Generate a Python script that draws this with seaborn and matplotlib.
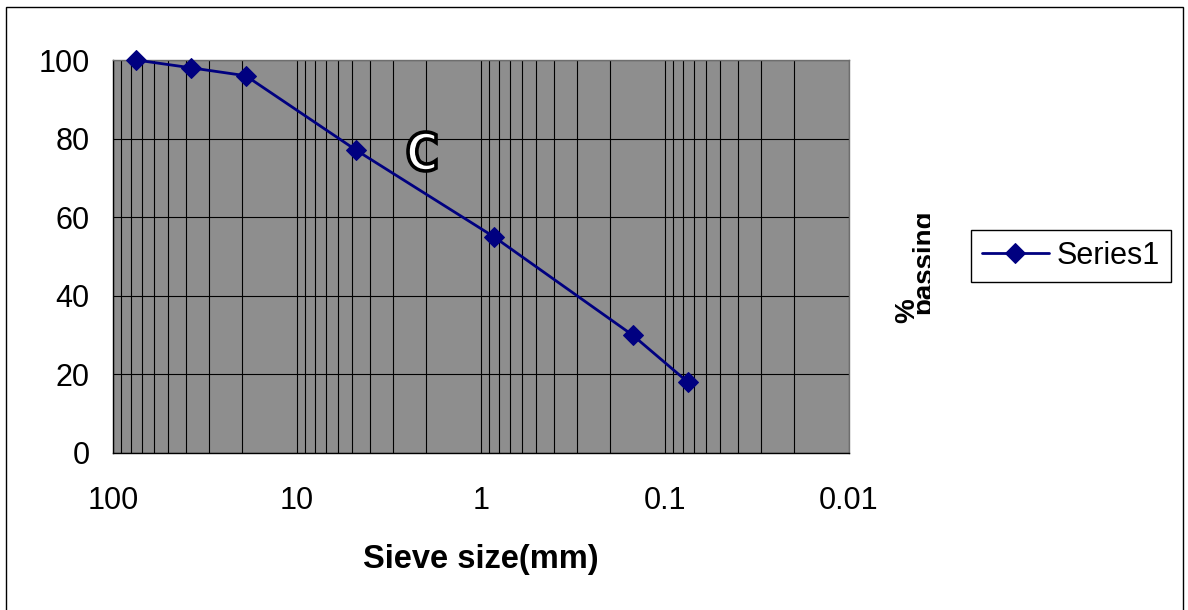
import numpy as np
import pandas as pd
import matplotlib.pyplot as plt
from matplotlib.patches import Rectangle, PathPatch
from matplotlib.textpath import TextPath
from matplotlib.font_manager import FontProperties
from matplotlib.transforms import Affine2D, Bbox, TransformedBbox
from matplotlib.ticker import FixedLocator, FixedFormatter, MultipleLocator, LogLocator, NullFormatter
import seaborn as sns

# sieve analysis, curve C
sieve_mm = [75, 37.5, 19, 4.75, 0.85, 0.15, 0.075]
passing = [100, 98, 96, 77, 55, 30, 18]
x_ticks = [100, 10, 1, 0.1, 0.01]
x_tick_labels = ['100', '10', '1', '0.1', '0.01']
y_ticks = [0, 20, 40, 60, 80, 100]

df = pd.DataFrame({'sieve': sieve_mm, 'passing': passing})

sns.set_style('white')
plt.rcParams['font.family'] = ['Liberation Sans', 'DejaVu Sans']
for k in ['text.color', 'axes.labelcolor', 'xtick.color', 'ytick.color']:
    plt.rcParams[k] = 'black'

W, H = 1188, 610
fig = plt.figure(figsize=(W / 100, H / 100), dpi=100)
ax = fig.add_axes([113 / W, 1 - 453 / H, (849 - 113) / W, (453 - 60) / H])
ax.set_facecolor('#8e8e8e')

sns.lineplot(data=df, x='sieve', y='passing', ax=ax, color='#000080',
             marker='D', markersize=10.5, markeredgecolor='#000080',
             linewidth=2.0, label='Series1', sort=False, clip_on=False, zorder=5)

ax.set_xscale('log')
ax.set_xlim(100, 0.01)
ax.set_ylim(0, 100)

ax.xaxis.set_major_locator(FixedLocator(x_ticks))
ax.xaxis.set_major_formatter(FixedFormatter(x_tick_labels))
ax.xaxis.set_minor_locator(LogLocator(base=10, subs=range(2, 10)))
ax.xaxis.set_minor_formatter(NullFormatter())
ax.yaxis.set_major_locator(FixedLocator(y_ticks))
ax.yaxis.set_minor_locator(MultipleLocator(4))

ax.grid(which='both', axis='x', color='black', linewidth=0.8)
ax.grid(which='major', axis='y', color='black', linewidth=0.8)
ax.set_axisbelow(True)

ax.tick_params(axis='x', which='major', direction='out', length=7, width=0.8,
               color='black', labelsize=22, pad=17)
ax.tick_params(axis='x', which='minor', length=0)
ax.tick_params(axis='y', which='major', length=0, labelsize=22, pad=17)
ax.tick_params(axis='y', which='minor', direction='in', length=6, width=0.8, color='black')

for s in ['left', 'bottom']:
    ax.spines[s].set_color('black')
    ax.spines[s].set_linewidth(1)
for s in ['top', 'right']:
    ax.spines[s].set_color('#6e6e6e')
    ax.spines[s].set_linewidth(1)

ax.set_xlabel('Sieve size(mm)', fontsize=23.5, fontweight='bold', labelpad=20)
ax.set_ylabel('')

# outlined, narrow "C" label (pixel box 406-437 x 130-173)
cpath = TextPath((0, 0), 'C', size=100,
                 prop=FontProperties(family='DejaVu Sans', weight='bold'))
ext = cpath.get_extents()
bx0, bx1 = 408, 436
by0, by1 = H - 171, H - 132
sx = (bx1 - bx0) / ext.width
sy = (by1 - by0) / ext.height
ctrans = Affine2D().translate(-ext.x0, -ext.y0).scale(sx, sy).translate(bx0, by0)
fig.add_artist(PathPatch(cpath, transform=ctrans, facecolor='white',
                         edgecolor='black', linewidth=2.6, zorder=6))

# legend
leg = ax.legend(loc='center left', bbox_to_anchor=(971 / W, 1 - 256 / H),
                bbox_transform=fig.transFigure, frameon=True, fancybox=False,
                edgecolor='black', framealpha=1, fontsize=22, handlelength=2.2,
                borderpad=0.35, handletextpad=0.25, borderaxespad=0)
leg.get_frame().set_linewidth(1)

# clipped "% passing" title
clip = TransformedBbox(Bbox.from_extents(0, 0, 930 / W, 1), fig.transFigure)
t1 = fig.text(914 / W, 1 - 323 / H, '%', rotation=90, rotation_mode='anchor',
              ha='left', va='baseline', fontsize=20, fontweight='bold')
t2 = fig.text(931 / W, 1 - 314 / H, 'passing', rotation=90, rotation_mode='anchor',
              ha='left', va='baseline', fontsize=20, fontweight='bold')
for t in (t1, t2):
    t.set_clip_box(clip)
    t.set_clip_on(True)

# chart border (bottom edge runs off the picture)
fig.patches.append(Rectangle((6 / W, -2 / H), (1183 - 6) / W, (H + 2 - 7) / H,
                             transform=fig.transFigure, fill=False,
                             edgecolor='black', linewidth=1))

fig.savefig('out.png', dpi=100)
